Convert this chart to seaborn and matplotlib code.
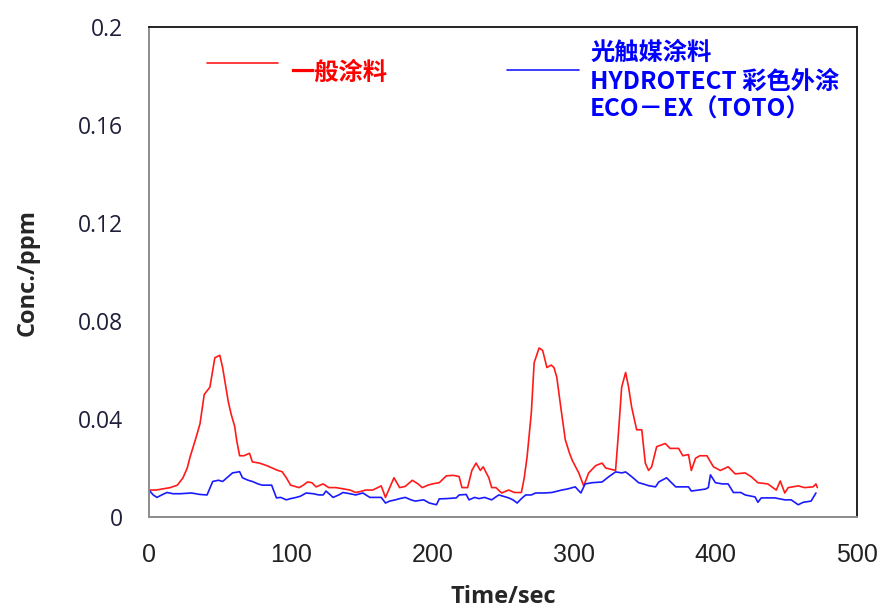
# Conc. vs time, general paint vs photocatalyst paint

import numpy as np
import pandas as pd

import matplotlib
matplotlib.use("Agg")
import matplotlib.pyplot as plt
import seaborn as sns
from matplotlib.lines import Line2D

# ==========================================
# DATA
# ==========================================

red_t = [0, 5, 10, 15, 20, 24, 27, 29, 33, 36, 39, 43, 46.5, 50, 52, 54, 56, 58,
         60.5, 62, 64, 67, 71, 73, 78, 83, 87, 91, 94, 97, 100, 103, 106, 109,
         112, 115, 118, 121, 123, 127, 132, 137, 142, 146, 150, 153, 158, 164,
         167, 170, 173, 175, 177, 181, 186, 190, 193, 197, 200, 205, 210, 215,
         219, 221, 225, 228, 231, 234, 236, 240, 242, 245, 249, 254, 258, 263,
         265, 267, 270, 272, 275.5, 278, 281, 284, 286, 288, 291, 294, 297, 299,
         303.5, 307, 310.5, 315.5, 320, 322.5, 326, 329.5, 331.7, 333.8, 336.6,
         338.7, 340.8, 344.4, 348, 350.5, 352.8, 355, 358.5, 364.6, 368, 374,
         377, 381, 383, 386, 389, 394, 398.6, 403.5, 409, 414, 421, 425.4, 430,
         437, 443, 445.8, 449, 451.4, 458.5, 463, 469, 471, 472]
red_c = [0.011, 0.011, 0.0115, 0.012, 0.013, 0.016, 0.020, 0.0245, 0.032, 0.038,
         0.050, 0.053, 0.065, 0.066, 0.061, 0.054, 0.047, 0.042, 0.037, 0.031,
         0.025, 0.025, 0.026, 0.0225, 0.022, 0.021, 0.020, 0.019, 0.0185, 0.016,
         0.013, 0.0125, 0.012, 0.013, 0.0143, 0.014, 0.0123, 0.013, 0.0135,
         0.012, 0.012, 0.0115, 0.011, 0.010, 0.0105, 0.011, 0.011, 0.0127,
         0.008, 0.012, 0.016, 0.014, 0.012, 0.0125, 0.015, 0.0135, 0.012,
         0.013, 0.0135, 0.014, 0.0168, 0.017, 0.0165, 0.012, 0.012, 0.019,
         0.022, 0.019, 0.0205, 0.016, 0.012, 0.012, 0.0098, 0.011, 0.010,
         0.010, 0.016, 0.0245, 0.0425, 0.063, 0.069, 0.068, 0.061, 0.062,
         0.061, 0.057, 0.044, 0.0315, 0.026, 0.023, 0.018, 0.0127, 0.018,
         0.021, 0.022, 0.020, 0.0195, 0.019, 0.0356, 0.053, 0.059, 0.053,
         0.045, 0.0356, 0.0356, 0.022, 0.019, 0.0205, 0.0287, 0.030, 0.028,
         0.028, 0.025, 0.0255, 0.019, 0.024, 0.025, 0.025, 0.0205, 0.019,
         0.0205, 0.0176, 0.018, 0.0164, 0.014, 0.0135, 0.011, 0.0147, 0.0098,
         0.012, 0.0127, 0.012, 0.0123, 0.0135, 0.012]

blue_t = [0, 3, 5.6, 9, 12.6, 17, 22, 30, 36, 41, 45, 49, 52, 56, 59, 64, 66, 70,
          73, 77, 80, 86.6, 90, 93, 97, 100, 104, 107, 111, 116, 120, 123, 125,
          130, 134, 137, 142, 146, 151, 156, 160, 164, 167, 170, 174, 177, 181,
          185, 188, 194, 198, 203, 205, 210, 217, 219, 224, 226, 230, 233, 237,
          242, 247, 250, 254, 257, 260, 263, 266, 270, 273, 279, 284.5, 288,
          291.5, 296, 301, 305, 308, 313, 320, 324.6, 329.5, 334, 336.6, 341,
          345.8, 349, 352.8, 357.7, 360, 365.5, 369, 372, 377, 381, 383, 388,
          393, 395, 396.5, 400, 405, 409, 412.7, 418, 421, 428, 430, 432.4, 437,
          442, 449, 453.5, 458.5, 462, 467.6, 471]
blue_c = [0.011, 0.009, 0.008, 0.009, 0.010, 0.0095, 0.0095, 0.0098, 0.0092,
          0.009, 0.0145, 0.015, 0.0145, 0.0165, 0.018, 0.0185, 0.016, 0.015,
          0.0145, 0.0135, 0.013, 0.013, 0.0078, 0.008, 0.007, 0.0075, 0.008,
          0.0085, 0.0098, 0.0095, 0.009, 0.009, 0.0106, 0.008, 0.009, 0.010,
          0.0095, 0.009, 0.0098, 0.008, 0.008, 0.008, 0.0057, 0.0065, 0.007,
          0.0075, 0.008, 0.007, 0.0065, 0.007, 0.0057, 0.005, 0.0074, 0.0075,
          0.0078, 0.009, 0.0092, 0.007, 0.008, 0.0075, 0.008, 0.007, 0.009,
          0.0085, 0.0078, 0.007, 0.0057, 0.0075, 0.009, 0.009, 0.0098, 0.0098,
          0.010, 0.0105, 0.011, 0.0115, 0.0123, 0.0098, 0.0135, 0.014, 0.0143,
          0.0164, 0.0184, 0.018, 0.0184, 0.0164, 0.014, 0.0135, 0.0128, 0.0123,
          0.0143, 0.016, 0.014, 0.0123, 0.0123, 0.0123, 0.0106, 0.011, 0.0114,
          0.012, 0.0172, 0.014, 0.0135, 0.0135, 0.010, 0.010, 0.009, 0.0082,
          0.006, 0.0078, 0.0078, 0.0078, 0.007, 0.007, 0.005, 0.006, 0.0065,
          0.0098]

x_ticks = [0, 100, 200, 300, 400, 500]
y_ticks = [0, 0.04, 0.08, 0.12, 0.16, 0.2]
y_tick_labels = ["0", "0.04", "0.08", "0.12", "0.16", "0.2"]

red_label = "一般涂料"
blue_label = ["光触媒涂料", "HYDROTECT 彩色外涂", "ECO－EX（TOTO）"]

df_red = pd.DataFrame({"t": red_t, "c": red_c})
df_blue = pd.DataFrame({"t": blue_t, "c": blue_c})

# ==========================================
# PLOT
# ==========================================

sns.set_style("white")
plt.rcParams["font.family"] = ["Open Sans", "DejaVu Sans"]

fig = plt.figure(figsize=(8.84, 6.13), dpi=100)
ax = fig.add_axes([149 / 884, 96 / 613, 708 / 884, 490 / 613])

sns.lineplot(data=df_red, x="t", y="c", color="#ff1a1a", lw=1.2, ax=ax)
sns.lineplot(data=df_blue, x="t", y="c", color="#1a1aff", lw=1.2, ax=ax)

ax.set_xlim(0, 500)
ax.set_ylim(0, 0.2)

ax.set_xticks(x_ticks)
ax.set_xticklabels([str(v) for v in x_ticks], family="Liberation Sans",
                   fontsize=18, color="#222222")
ax.set_yticks(y_ticks)
ax.set_yticklabels(y_tick_labels, fontsize=16.5, color="#1f1f3a")

ax.tick_params(axis="y", direction="in", length=7, width=1.1,
               color="#8c8c8c", pad=19)
ax.tick_params(axis="x", direction="in", length=6, width=1.1,
               color="#8c8c8c", pad=19)

for side in ["left", "bottom"]:
    ax.spines[side].set_color("#8c8c8c")
    ax.spines[side].set_linewidth(1.4)
for side in ["top", "right"]:
    ax.spines[side].set_color("#222222")
    ax.spines[side].set_linewidth(1.4)

ax.set_xlabel("Time/sec", fontsize=17, fontweight="bold", labelpad=13)
ax.set_ylabel("Conc./ppm", fontsize=17, fontweight="bold", labelpad=27)

# legend-like labels inside the plot
cjk = ["Noto Sans CJK SC", "DejaVu Sans"]
ax.add_line(Line2D([0.082, 0.182], [0.927, 0.927], transform=ax.transAxes,
                   color="#ff1a1a", lw=1.2))
ax.text(0.199, 0.906, red_label, transform=ax.transAxes, color="#ff0000",
        fontsize=17.5, fontweight="bold", family=cjk, va="center", ha="left")

ax.add_line(Line2D([0.506, 0.607], [0.912, 0.912], transform=ax.transAxes,
                   color="#1a1aff", lw=1.2))
for txt, yy in zip(blue_label, [0.947, 0.888, 0.831]):
    ax.text(0.623, yy, txt, transform=ax.transAxes, color="#0000ff",
            fontsize=17.5, fontweight="bold", family=cjk, va="center", ha="left")

plt.savefig("out.png", dpi=100)
